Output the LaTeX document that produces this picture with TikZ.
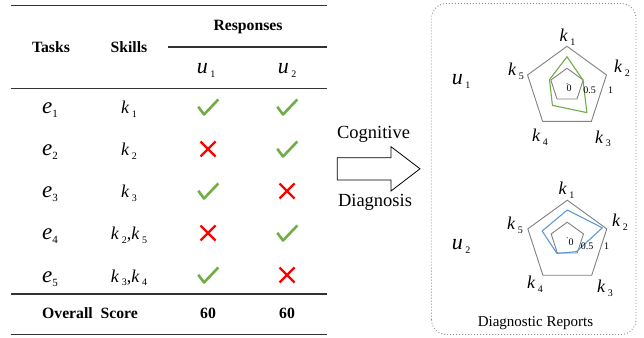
\documentclass[tikz,border=0pt]{standalone}
\usepackage{fontspec}
\setmainfont{LiberationSerif}[Extension=.ttf, UprightFont=*-Regular,
    BoldFont=*-Bold, ItalicFont=*-Italic, BoldItalicFont=*-BoldItalic]
\usetikzlibrary{calc}
\definecolor{okgreen}{RGB}{112,173,71}
\definecolor{badred}{RGB}{255,0,0}
\definecolor{repblue}{RGB}{91,155,213}
\definecolor{ringgray}{RGB}{128,128,128}
\newcommand{\evar}[2]{\textit{#1}\raisebox{-4pt}{\fontsize{11}{12}\selectfont #2}}
\newcommand{\kvar}[2]{\textit{#1}\kern2.5pt\raisebox{-3.5pt}{\fontsize{10}{12}\selectfont #2}}
\tikzset{
    every node/.style={inner sep=0pt, anchor=base},
    hdr/.style={font=\fontsize{15.7}{18}\selectfont\bfseries},
    evarnode/.style={font=\fontsize{23}{25}\selectfont},
    kvarnode/.style={font=\fontsize{18}{21}\selectfont},
    uvarnode/.style={font=\fontsize{22}{24}\selectfont},
    plain/.style={font=\fontsize{18.5}{21}\selectfont},
    ticklabel/.style={font=\fontsize{10}{11}\selectfont},
    rule/.style={line width=1.4pt, black!80},
    tick/.pic={
        \draw[okgreen, line width=2.6pt, line join=round] (-9.7,0.2) -- (-4,-7.5) -- (10.3,7.5);
    },
    cross/.pic={
        \draw[badred, line width=2.4pt] (-7.5,-7.5) -- (7.5,7.5) (-7.5,7.5) -- (7.5,-7.5);
    },
    radarframe/.pic={
        \draw[ringgray, line width=0.9pt] (90:17) -- (18:17) -- (-54:17)
            -- (-126:17) -- (162:17) -- cycle;
        \draw[ringgray, line width=0.9pt, shift={(0,-2.5)}] (90:41.5) -- (18:41.5)
            -- (-54:41.5) -- (-126:41.5) -- (162:41.5) -- cycle;
        \fill[ringgray] (0,1.5) circle (0.8);
    },
}

\begin{document}
\begin{tikzpicture}[x=1pt, y=1pt]
    \useasboundingbox (0,0) rectangle (644,337);

    % table
    \draw[rule] (10.5,331.5) -- (326.5,331.5);
    \draw[rule] (168,290) -- (326.5,290);
    \draw[rule] (10.5,248.7) -- (326.5,248.7);
    \draw[rule] (10.5,43) -- (326.5,43);
    \draw[rule] (10.5,2.7) -- (326.5,2.7);
    \node[hdr] (tasks) at (51,284.7) {Tasks};
    \node[hdr] (skills) at (129,284.7) {Skills};
    \node[hdr] (resp) at (248,306.3) {Responses};
    \node[uvarnode] (hu1) at (206,263) {\kvar{u}{1}};
    \node[uvarnode] (hu2) at (287,263) {\kvar{u}{2}};
    \foreach \y/\n/\sk/\ra/\rb in {223/1/{\kvar{k}{1}}/tick/tick,
        181/2/{\kvar{k}{2}}/cross/tick, 139/3/{\kvar{k}{3}}/tick/cross,
        97/4/{\kvar{k}{2},\kvar{k}{5}}/cross/tick,
        55/5/{\kvar{k}{3},\kvar{k}{4}}/tick/cross} {
        \node[evarnode] (e\n) at (50,\y) {\evar{e}{\n}};
        \node[kvarnode] (s\n) at (129,\y) {\sk};
        \pic at (208,\y+7) {\ra};
        \pic at (287,\y+7) {\rb};
    }
    \node[hdr] (total) at (90,18.7) {Overall\ \ Score};
    \node[hdr] (score1) at (208,18.7) {60};
    \node[hdr] (score2) at (287,18.7) {60};

    % arrow
    \node[plain] (cog) at (373.5,198.7) {Cognitive};
    \node[plain] (diag) at (375,130.3) {Diagnosis};
    \draw[line width=0.8pt, line join=miter] (337.3,179.3) -- (391,179.3) -- (391,190.3)
        -- (420,168.2) -- (391,146) -- (391,157) -- (337.3,157) -- cycle;

    % reports
    \draw[ringgray!90, line width=0.9pt, dash pattern=on 0.9pt off 2.1pt,
        rounded corners=15] (431.5,2.5) rectangle (636,333.5);
    \node[font=\fontsize{15}{17}\selectfont] (rep) at (535.5,10.3) {Diagnostic Reports};

    \coordinate (c1) at (567,251.7);
    \coordinate (c2) at (567.3,97.8);
    \pic at (c1) {radarframe};
    \pic at (c2) {radarframe};
    \draw[okgreen, line width=1.1pt, line join=round] ($(c1)+(90:28.6)$)
        -- ($(c1)+(18:16.8)$) -- ($(c1)+(-54:33.8)$) -- ($(c1)+(-126:24.8)$)
        -- ($(c1)+(162:18.4)$) -- cycle;
    \draw[repblue, line width=1.1pt, line join=round] ($(c2)+(90:29.2)$)
        -- ($(c2)+(18:36.8)$) -- ($(c2)+(-54:15.4)$) -- ($(c2)+(-126:17.6)$)
        -- ($(c2)+(162:26.5)$) -- cycle;

    \node[uvarnode] (ru1) at (461,252) {\kvar{u}{1}};
    \node[uvarnode] (ru2) at (461,87) {\kvar{u}{2}};
    \node[kvarnode] (ak1) at (567.5,295.3) {\kvar{k}{1}};
    \node[kvarnode] (ak2) at (622,264.3) {\kvar{k}{2}};
    \node[kvarnode] (ak3) at (603,193.7) {\kvar{k}{3}};
    \node[kvarnode] (ak4) at (540,195.3) {\kvar{k}{4}};
    \node[kvarnode] (ak5) at (516,261) {\kvar{k}{5}};
    \node[kvarnode] (bk1) at (566.5,142) {\kvar{k}{1}};
    \node[kvarnode] (bk2) at (620,110.3) {\kvar{k}{2}};
    \node[kvarnode] (bk3) at (605,44.5) {\kvar{k}{3}};
    \node[kvarnode] (bk4) at (535,48.5) {\kvar{k}{4}};
    \node[kvarnode] (bk5) at (515,107) {\kvar{k}{5}};
    \node[ticklabel] (az) at (569,245.3) {0};
    \node[ticklabel] (ah) at (589.7,243.7) {0.5};
    \node[ticklabel] (af) at (610.7,243.7) {1};
    \node[ticklabel] (bz) at (571,91) {0};
    \node[ticklabel] (bh) at (587.2,87) {0.5};
    \node[ticklabel] (bf) at (606.7,87) {1};
\end{tikzpicture}
\end{document}
